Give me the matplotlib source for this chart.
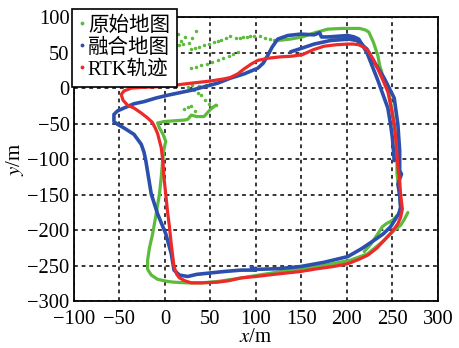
import matplotlib
matplotlib.use('Agg')
import matplotlib.pyplot as plt
from matplotlib.lines import Line2D

plt.rcParams['font.family'] = ['Liberation Serif', 'Noto Sans CJK SC']
plt.rcParams['mathtext.fontset'] = 'stix'

# RTK track
rtk_x = [149, 168, 185, 201, 213, 223, 233, 241, 249, 256, 259, 261, 260, 259, 258, 256,
         254, 252, 249, 245, 240, 234, 229, 223, 218, 213, 207, 201, 188, 175, 163, 151,
         140, 127, 113, 102, 95, 87, 80, 72, 65, 50, 29, 10, -8, -26, -37, -45, -48, -46,
         -41, -34, -26, -19, -14, -11, -8, -4, -2, -1, 1, 3, 5, 7, 10, 13, 16, 22, 29, 40,
         58, 70, 84, 100, 120, 149]
rtk_y = [-258, -254, -251, -247, -241, -235, -225, -214, -203, -191, -182, -170, -160,
         -149, -130, -110, -75, -51, -30, -5, 10, 27, 40, 53, 58, 61, 62, 62, 61, 59, 54,
         47, 45, 44, 42, 39, 34, 27, 20, 15, 13, 10, 7, 4, 2, 1, 0, -4, -9, -17, -24, -28,
         -35, -42, -48, -55, -64, -84, -105, -126, -150, -175, -195, -220, -251, -262,
         -267, -271, -274, -274, -273, -271, -267, -265, -262, -258]

# fused map track
fused_x = [138, 150, 164, 182, 202, 211, 222, 230, 241, 252, 256, 258, 258, 260, 256,
           258, 259, 257, 248, 240, 230, 216, 201, 175, 149, 125, 100, 95, 100, 84, 65, 50,
           35, 25, 16, 10, 7, 1, -8, -15, -21, -23, -26, -34, -45, -52, -56, -56, -52, -45,
           -34, -23, -10, 3, 29, 58, 72, 87, 102, 108, 113, 118, 124, 135, 149, 164, 170,
           172, 179, 190, 201, 208, 213, 222, 234, 245, 248, 250, 251, 252]
fused_y = [51, 56, 62, 67, 69, 67, 55, 37, 14, -14, -51, -88, -116, -121, -135, -150,
           -168, -177, -195, -205, -214, -226, -237, -245, -251, -254, -255, -252, -256,
           -256, -258, -260, -262, -265, -263, -256, -233, -205, -177, -149, -102, -90,
           -79, -65, -56, -51, -47, -37, -32, -28, -22, -19, -14, -10, -3, 7, 14, 20, 28,
           35, 46, 58, 69, 74, 76, 75, 78, 72, 72, 73, 74, 72, 69, 50, 11, -28, -51, -70,
           -85, -102]

# original map track, bottom and left side
orig_x = [267, 263, 259, 252, 241, 223, 204, 185, 168, 149, 128, 108, 84, 58, 40, 25,
          10, 3, -8, -15, -19, -19, -17, -13.5, -10, -6, -4, -2.5, -1, 1, -2, -6, -8, -4,
          -1, 10, 21, 25, 29, 35, 43, 50, 56]
orig_y = [-175, -185, -193, -200, -214, -233, -242, -247, -251, -254, -258, -262, -267,
          -272, -274, -274, -273, -272, -269, -263, -255, -242, -225, -205, -180, -149,
          -125, -102, -85, -75, -65, -56, -49, -48, -47, -46, -45, -44, -38, -40, -40, -30,
          -24]
# original map track, top and right side
orig2_x = [124, 138, 151, 165, 179, 195, 214, 220, 224, 229, 234, 236, 240, 245, 250,
           254, 255, 255, 257, 259, 257, 250, 243, 239, 234, 226, 219]
orig2_y = [67, 69, 72, 78, 83, 84, 84, 82, 79, 65, 46, 32, 15, 0, -33, -70, -100, -120,
           -140, -168, -177, -186, -191, -195, -205, -220, -230]

# original map scattered points
dots_x = [120, 115, 110, 104, 98, 94, 90, 86, 82, 78, 72, 67, 62, 58, 54, 48, 43, 38,
          33, 29, 80, 75, 70, 64, 58, 52, 46, 40, 34, 29, 14, 18, 22, 26, 30, 34, 16, 20,
          36, 40, 44, 48, 52, 56, 21, 25, 29, 33, 25, 30, 36, 32, 38, 45, 50]
dots_y = [68, 69, 71, 73, 74, 73, 72, 72, 71, 70, 74, 71, 68, 66, 65, 62, 60, 58, 57,
          55, 51, 48, 45, 42, 40, 37, 34, 32, 30, 28, 76, 67, 72, 64, 70, 81, 60, 62, -7,
          -10, -16, -22, -26, -24, -30, -27, -25, -32, 2, 5, 1, -2, 3, 4, 6]

green = '#5dbb3c'
blue = '#2c4fae'
red = '#ec2a2a'

fig = plt.figure(figsize=(4.59, 3.48), dpi=100)
ax = fig.add_axes([0.161, 0.134, 0.793, 0.817])

ax.plot(orig_x, orig_y, color=green, lw=2.3, solid_capstyle='round', solid_joinstyle='round')
ax.plot(orig2_x, orig2_y, color=green, lw=2.3, solid_capstyle='round', solid_joinstyle='round')
ax.plot(dots_x, dots_y, '.', color=green, ms=3)
ax.plot(fused_x, fused_y, color=blue, lw=2.6, solid_capstyle='round', solid_joinstyle='round')
ax.plot(rtk_x, rtk_y, color=red, lw=2.3, solid_capstyle='round', solid_joinstyle='round')

ax.set_xlim(-100, 300)
ax.set_ylim(-300, 100)
ax.set_xticks(range(-100, 301, 50))
ax.set_yticks(range(-300, 101, 50))
ax.set_xticklabels(['\u2212' + str(-v) if v < 0 else str(v) for v in range(-100, 301, 50)])
ax.set_yticklabels(['\u2212' + str(-v) if v < 0 else str(v) for v in range(-300, 101, 50)])
ax.tick_params(length=0, labelsize=14.8)
ax.tick_params(axis='x', pad=6.5)
ax.tick_params(axis='y', pad=3)
ax.grid(True, color='black', linestyle=(0, (2.5, 2.5)), lw=1.1)
for s in ax.spines.values():
    s.set_linewidth(1.3)

ax.set_xlabel('$x$/m', fontsize=15)
ax.xaxis.set_label_coords(0.5, -0.094)
ax.set_ylabel('$y$/m', fontsize=15, labelpad=1)

handles = [Line2D([], [], marker='.', ls='none', color=c, ms=3.5) for c in (green, blue, red)]
leg = ax.legend(handles, ['原始地图', '融合地图', 'RTK轨迹'], loc='upper left',
                bbox_to_anchor=(-0.004, 1.028), borderaxespad=0, fontsize=14.8,
                handlelength=0.25, handletextpad=0.15, borderpad=0.35, labelspacing=0.12,
                fancybox=False, framealpha=1, edgecolor='black')
leg.get_frame().set_linewidth(1.2)

fig.savefig('out.png', dpi=100)
